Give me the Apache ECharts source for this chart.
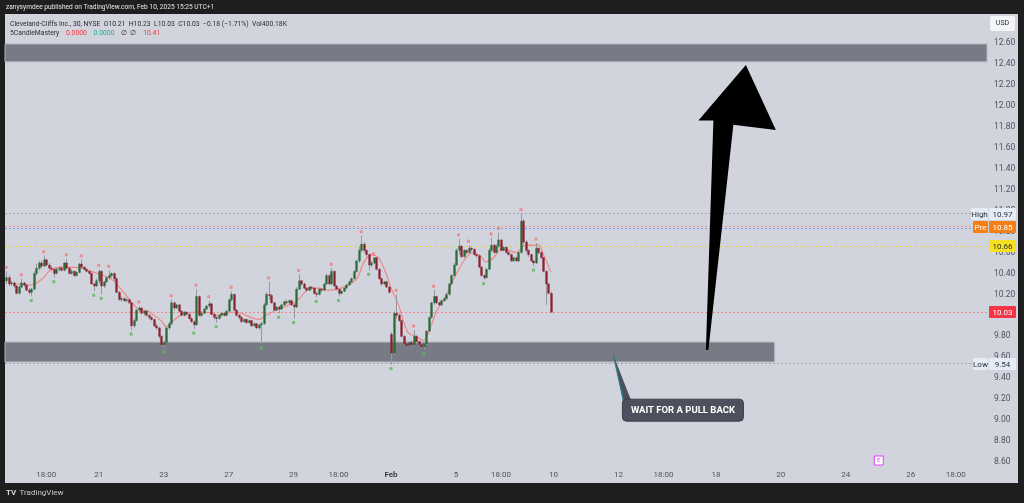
<!DOCTYPE html>
<html><head><meta charset="utf-8">
<script src="https://cdn.jsdelivr.net/npm/echarts/dist/echarts.min.js"></script>
<style>html,body{margin:0;padding:0;background:#1e1e1e;overflow:hidden}#c{width:1024px;height:503px}</style>
</head><body><div id="c"></div><script>
// ---- data ----
const totalBars = 393; // 30-min bar slots shown (incl. empty future)
// [open, close, low, high] per 30-min bar, CLF Jan 15 – Feb 7 2025
const ohlc = [
[10.33,10.36,10.30,10.42],[10.36,10.30,10.28,10.38],[10.30,10.31,10.28,10.33],[10.31,10.28,10.26,10.32],[10.28,10.21,10.20,10.29],
[10.21,10.27,10.20,10.28],[10.27,10.31,10.26,10.35],[10.31,10.29,10.27,10.32],[10.29,10.24,10.23,10.30],[10.24,10.22,10.20,10.26],
[10.22,10.25,10.18,10.26],[10.25,10.40,10.24,10.42],[10.40,10.45,10.38,10.49],[10.45,10.50,10.43,10.52],[10.50,10.47,10.45,10.52],
[10.47,10.53,10.46,10.57],[10.53,10.48,10.47,10.54],[10.48,10.45,10.44,10.50],[10.45,10.44,10.42,10.47],[10.44,10.40,10.36,10.45],
[10.40,10.44,10.39,10.45],[10.44,10.45,10.42,10.47],[10.45,10.43,10.42,10.47],[10.43,10.50,10.42,10.51],[10.50,10.45,10.44,10.54],
[10.45,10.40,10.39,10.46],[10.40,10.42,10.39,10.44],[10.42,10.38,10.37,10.43],[10.38,10.41,10.37,10.42],[10.41,10.49,10.40,10.50],
[10.49,10.46,10.45,10.53],[10.46,10.44,10.43,10.47],[10.44,10.42,10.41,10.45],[10.42,10.40,10.39,10.43],[10.40,10.30,10.29,10.41],
[10.30,10.28,10.23,10.31],[10.28,10.33,10.27,10.35],[10.33,10.42,10.30,10.44],[10.42,10.28,10.20,10.43],[10.28,10.32,10.26,10.33],
[10.32,10.36,10.31,10.37],[10.36,10.38,10.34,10.43],[10.38,10.40,10.36,10.41],[10.40,10.35,10.33,10.41],[10.35,10.22,10.21,10.36],
[10.22,10.15,10.14,10.23],[10.15,10.16,10.13,10.18],[10.16,10.14,10.13,10.17],[10.14,10.15,10.12,10.16],[10.15,10.12,10.11,10.16],
[10.12,9.90,9.86,10.12],[9.90,9.95,9.88,9.97],[9.95,10.05,9.94,10.06],[10.05,10.07,10.03,10.09],[10.07,10.02,10.01,10.08],
[10.02,10.04,10.00,10.05],[10.04,10.00,9.99,10.05],[10.00,9.98,9.96,10.01],[9.98,9.96,9.95,9.99],[9.96,9.90,9.89,9.97],
[9.90,9.88,9.86,9.92],[9.88,9.80,9.78,9.89],[9.80,9.72,9.70,9.81],[9.72,9.74,9.69,9.76],[9.74,9.88,9.73,9.89],
[9.88,9.92,9.86,9.94],[9.92,10.12,9.91,10.15],[10.12,10.07,10.05,10.13],[10.07,10.10,10.06,10.11],[10.10,10.04,10.03,10.11],
[10.04,10.00,9.99,10.05],[10.00,10.03,9.99,10.04],[10.03,10.01,10.00,10.04],[10.01,9.97,9.96,10.02],[9.97,9.94,9.93,9.98],
[9.94,9.91,9.87,9.95],[9.91,10.18,9.90,10.25],[10.18,10.00,9.99,10.19],[10.00,10.02,9.98,10.04],[10.02,10.06,10.01,10.07],
[10.06,10.09,10.05,10.10],[10.09,10.11,10.07,10.14],[10.11,10.01,10.00,10.12],[10.01,9.98,9.96,10.02],[9.98,9.97,9.93,9.99],
[9.97,10.00,9.96,10.01],[10.00,10.02,9.99,10.03],[10.02,10.00,9.99,10.03],[10.00,10.04,9.99,10.05],[10.04,10.15,10.03,10.16],
[10.15,10.20,10.13,10.23],[10.20,10.05,10.04,10.21],[10.05,10.00,9.99,10.06],[10.00,9.98,9.96,10.01],[9.98,9.94,9.93,9.99],
[9.94,9.96,9.93,9.97],[9.96,9.93,9.92,9.97],[9.93,9.95,9.92,9.96],[9.95,9.90,9.89,9.96],[9.90,9.92,9.89,9.93],
[9.92,9.88,9.87,9.93],[9.88,9.91,9.86,9.92],[9.91,9.92,9.73,9.94],[9.92,10.10,9.91,10.12],[10.10,10.20,10.09,10.22],
[10.20,10.19,10.15,10.32],[10.19,10.12,10.11,10.20],[10.12,10.05,10.04,10.13],[10.05,10.08,10.04,10.09],[10.08,10.06,10.02,10.09],
[10.06,10.10,10.05,10.11],[10.10,10.13,10.09,10.14],[10.13,10.12,10.11,10.15],[10.12,10.14,10.11,10.15],[10.14,10.10,10.09,10.15],
[10.10,10.08,9.97,10.11],[10.08,10.25,10.07,10.27],[10.25,10.33,10.24,10.39],[10.33,10.30,10.28,10.34],[10.30,10.26,10.25,10.31],
[10.26,10.24,10.23,10.27],[10.24,10.27,10.23,10.28],[10.27,10.26,10.24,10.28],[10.26,10.21,10.20,10.27],[10.21,10.20,10.17,10.22],
[10.20,10.25,10.19,10.26],[10.25,10.24,10.22,10.26],[10.24,10.30,10.23,10.31],[10.30,10.38,10.29,10.40],[10.38,10.30,10.29,10.39],
[10.30,10.42,10.29,10.45],[10.42,10.28,10.27,10.43],[10.28,10.25,10.24,10.29],[10.25,10.21,10.18,10.26],[10.21,10.23,10.20,10.24],
[10.23,10.26,10.22,10.27],[10.26,10.29,10.25,10.30],[10.29,10.32,10.28,10.33],[10.32,10.35,10.31,10.36],[10.35,10.42,10.34,10.43],
[10.42,10.52,10.41,10.53],[10.52,10.62,10.50,10.66],[10.62,10.68,10.60,10.76],[10.68,10.62,10.60,10.70],[10.62,10.58,10.56,10.63],
[10.58,10.48,10.43,10.59],[10.48,10.50,10.46,10.52],[10.50,10.55,10.49,10.55],[10.55,10.44,10.43,10.55],[10.44,10.35,10.34,10.45],
[10.35,10.30,10.28,10.36],[10.30,10.32,10.29,10.33],[10.32,10.27,10.26,10.33],[10.27,10.22,10.21,10.28],[9.82,9.64,9.53,9.84],
[9.64,10.02,9.62,10.04],[10.02,10.00,9.97,10.20],[10.00,9.95,9.94,10.02],[9.95,9.80,9.79,9.96],[9.80,9.73,9.72,9.81],
[9.73,9.71,9.70,9.75],[9.71,9.74,9.70,9.75],[9.74,9.72,9.70,9.76],[9.72,9.80,9.71,9.86],[9.80,9.75,9.73,9.81],
[9.75,9.72,9.71,9.76],[9.72,9.70,9.69,9.74],[9.70,9.73,9.67,9.74],[9.73,9.85,9.72,9.86],[9.85,9.98,9.84,9.99],
[9.98,10.12,9.97,10.13],[10.12,10.18,10.10,10.24],[10.18,10.12,10.11,10.19],[10.12,10.10,10.09,10.13],[10.10,10.14,10.09,10.15],
[10.14,10.16,10.13,10.17],[10.16,10.20,10.15,10.21],[10.20,10.30,10.19,10.31],[10.30,10.38,10.29,10.39],[10.38,10.48,10.37,10.50],
[10.48,10.62,10.47,10.64],[10.62,10.66,10.58,10.73],[10.66,10.56,10.55,10.67],[10.56,10.62,10.55,10.63],[10.62,10.60,10.58,10.63],
[10.60,10.64,10.59,10.67],[10.64,10.63,10.61,10.65],[10.63,10.58,10.57,10.64],[10.58,10.57,10.55,10.59],[10.57,10.46,10.45,10.58],
[10.46,10.38,10.37,10.47],[10.38,10.36,10.34,10.39],[10.36,10.44,10.35,10.45],[10.44,10.62,10.43,10.64],[10.62,10.67,10.60,10.74],
[10.67,10.60,10.59,10.68],[10.60,10.66,10.59,10.68],[10.66,10.72,10.64,10.79],[10.72,10.62,10.61,10.73],[10.62,10.65,10.61,10.66],
[10.65,10.60,10.59,10.66],[10.60,10.58,10.57,10.61],[10.58,10.52,10.51,10.59],[10.52,10.55,10.51,10.56],[10.55,10.52,10.51,10.56],
[10.52,10.60,10.51,10.61],[10.60,10.90,10.59,10.97],[10.90,10.70,10.68,10.92],[10.70,10.62,10.60,10.72],[10.62,10.58,10.56,10.63],
[10.58,10.52,10.51,10.59],[10.52,10.50,10.47,10.53],[10.50,10.64,10.49,10.69],[10.64,10.60,10.58,10.65],[10.60,10.55,10.54,10.61],
[10.55,10.42,10.41,10.56],[10.42,10.30,10.10,10.43],[10.30,10.21,10.20,10.31],[10.21,10.03,10.03,10.23]
];
// 5CandleMastery smoothed line, [barIndex, value]
const maPoints = [[4,10.30],[10,10.29],[15,10.36],[17,10.42],[19,10.45],[25,10.46],[30,10.45],[34,10.42],[40,10.37],[43,10.33],
[47,10.22],[50,10.13],[53,10.06],[57,10.04],[58,10.02],[62,9.95],[64,9.89],[67,9.95],[71,10.02],[75,10.03],[80,10.03],[85,10.00],
[90,10.03],[94,10.02],[98,9.98],[101,9.96],[104,10.00],[108,10.05],[112,10.09],[116,10.13],[121,10.25],[125,10.26],[129,10.24],
[134,10.26],[140,10.34],[143,10.50],[146,10.58],[149,10.55],[152,10.40],[154,10.26],[157,10.10],[159,9.94],[161,9.83],[164,9.80],
[167,9.76],[170,9.90],[172,10.03],[176,10.19],[180,10.39],[184,10.55],[187,10.60],[190,10.56],[192,10.51],[195,10.55],[198,10.63],
[201,10.62],[204,10.60],[207,10.66],[209,10.67],[213,10.67],[215,10.58],[218,10.41]];
const pivotHighIdx = [0,6,15,24,30,37,41,53,66,76,81,90,105,117,130,142,147,156,163,171,181,185,194,197,206,212];
const pivotLowIdx = [10,19,35,38,50,63,75,84,102,109,115,124,133,145,154,167,191,211];
const timeLabels = [[16,'18:00'],[37,'21'],[63,'23'],[89,'27'],[115,'29'],[133,'18:00'],[154,'Feb'],[180,'5'],[198,'18:00'],
[219,'10'],[245,'12'],[263,'18:00'],[284,'18'],[310,'20'],[336,'24'],[362,'26'],[380,'18:00']];
const priceMin = 8.4, priceMax = 12.8, priceStep = 0.2;
const levelHigh = 10.97, levelPre = 10.85, levelPreB = 10.83, levelYellow = 10.66, levelLast = 10.03, levelLow = 9.54;
const zoneTop = [12.42, 12.59], zoneBottom = [9.555, 9.745];
const earningsBar = 349;

// ---- chart ----
const chart = echarts.init(document.getElementById('c'), null, {renderer:'canvas'});
const cats = Array.from({length: totalBars}, (_, i) => String(i));
const labelMap = {}; timeLabels.forEach(t => labelMap[t[0]] = t[1]);
const FONT = 'Roboto, "Noto Sans", sans-serif';

function lvl(v, color, type) { return {yAxis: v, lineStyle: {color: color, type: type || [2,2], width: 1}}; }

chart.setOption({
  animation: false,
  backgroundColor: '#1e1e1e',
  grid: {left: 5, right: 37, top: 22, bottom: 20, containLabel: false},
  xAxis: {type: 'category', data: cats, boundaryGap: true,
    axisLine: {show: false}, axisTick: {show: false}, splitLine: {show: false},
    axisLabel: {inside: true, interval: 0, margin: 4, fontSize: 8, fontFamily: FONT,
      color: '#50535e', formatter: (v, i) => labelMap[i] === 'Feb' ? '{b|Feb}' : (labelMap[i] || ''),
      rich: {b: {fontSize: 8, fontWeight: 'bold', color: '#3a3d47', fontFamily: FONT}}}},
  yAxis: {type: 'value', position: 'right', min: priceMin, max: priceMax, interval: priceStep, scale: true,
    axisLine: {show: false}, axisTick: {show: false}, splitLine: {show: false},
    axisLabel: {margin: 7, fontSize: 8.5, fontFamily: FONT, color: '#50535e', padding: [5, 0, 0, 0],
      formatter: v => (v < 8.5 || v > 12.7) ? '' : v.toFixed(2)}},
  series: [
    {type: 'custom', name: 'CLF', data: ohlc.map((d, i) => [i, d[0], d[1], d[2], d[3]]),
      encode: {x: 0, y: [1, 2, 3, 4]}, z: 5,
      renderItem: function (params, api) {
        const i = api.value(0), o = api.value(1), c = api.value(2), l = api.value(3), h = api.value(4);
        const pO = api.coord([i, o]), pC = api.coord([i, c]), pL = api.coord([i, l]), pH = api.coord([i, h]);
        const bw = api.size([1, 0])[0] * 0.74;
        const x = Math.round(pO[0]) + 0.5;
        const up = c >= o;
        const top = Math.min(pO[1], pC[1]), bot = Math.max(pO[1], pC[1]);
        return {type: 'group', children: [
          {type: 'line', shape: {x1: x, y1: pH[1], x2: x, y2: pL[1]}, style: {stroke: '#95989f', lineWidth: 1}},
          {type: 'rect', shape: {x: x - bw / 2, y: top, width: bw, height: Math.max(1, bot - top)},
            style: {fill: up ? '#2a6b3b' : '#8b2232', stroke: up ? '#2a6b3b' : '#8b2232', lineWidth: 0.4}}
        ]};
      }},
    {type: 'line', name: '5CandleMastery', data: maPoints, showSymbol: false, smooth: 0.3, z: 4,
      lineStyle: {color: '#f28080', width: 1.1},
      markLine: {silent: true, symbol: 'none', label: {show: false},
        data: [lvl(levelHigh, '#a3a6ae'), lvl(levelPre, '#f28e8e'), lvl(levelPreB, '#7e9be8'),
               lvl(levelYellow, '#e8d21d', [2,3]), lvl(levelLast, '#f08a8a'), lvl(levelLow, '#a3a6ae')]}},
    {type: 'scatter', name: 'ph', symbol: 'rect', symbolSize: [3, 3], symbolOffset: [0, -4], z: 6,
      itemStyle: {color: '#f47c82'}, data: pivotHighIdx.map(i => [i, ohlc[i][3]])},
    {type: 'scatter', name: 'pl', symbol: 'rect', symbolSize: [3, 3], symbolOffset: [0, 4], z: 6,
      itemStyle: {color: '#5cb85f'}, data: pivotLowIdx.map(i => [i, ohlc[i][2]])}
  ]
});

function px(i, p) { return chart.convertToPixel({gridIndex: 0}, [i, p]); }
const barW = px(1, 10)[0] - px(0, 10)[0];
const gridL = px(0, 10)[0] - barW / 2, gridR = px(totalBars - 1, 10)[0] + barW / 2;
const Y = p => px(0, p)[1];

function zoneRect(range, xEndBar) {
  const xr = xEndBar == null ? gridR : px(xEndBar, 10)[0] + barW / 2;
  const y1 = Y(range[1]), y2 = Y(range[0]);
  return {type: 'rect', z: 2, shape: {x: gridL, y: y1, width: xr - gridL, height: y2 - y1},
    style: {fill: '#787b86', stroke: '#b4b7bf', lineWidth: 1}};
}
function tag(x, yc, w, text, bg, fg) {
  const yy = Math.round(yc);
  return [
    {type: 'rect', z: 60, shape: {x: x, y: yy - 6, width: w, height: 12, r: 1}, style: {fill: bg}},
    {type: 'text', z: 61, x: x + w / 2, y: yy + 0.5, style: {text: text, fill: fg, font: '8px ' + FONT, align: 'center', verticalAlign: 'middle'}}
  ];
}
// arrow polygon in data coords [bar, price]
const arrowPts = [[280, 9.67], [281.4, 9.67], [291.2, 11.82], [308, 11.77], [296.4, 12.39], [277.2, 11.86], [283.4, 11.86]].map(q => px(q[0], q[1]));
const callAnchor = px(242.5, 9.62);
const boxX = callAnchor[0] + 9, boxY = callAnchor[1] + 44;
const eX = px(earningsBar, 10)[0];

const g = [
  // panel
  {type: 'rect', z: -10, shape: {x: 5, y: 14, width: 1013, height: 469}, style: {fill: '#d1d4dc'}},
  // header
  {type: 'text', x: 6, y: 7, z: 50, style: {text: 'zanysymdee published on TradingView.com, Feb 10, 2025 15:25 UTC+1', fill: '#e8e8e8', font: '6.6px ' + FONT, verticalAlign: 'middle'}},
  // legend
  {type: 'text', x: 10, y: 24, z: 50, style: {text: 'Cleveland-Cliffs Inc., 30, NYSE  O10.21  H10.23  L10.03  C10.03  \u22120.18 (\u22121.71%)  Vol400.18K', fill: '#2a2e39', font: '6.8px ' + FONT, verticalAlign: 'middle'}},
  {type: 'text', x: 10, y: 33, z: 50, style: {text: '{a|5CandleMastery}  {r|0.0000}  {gg|0.0000}  {a|\u2205  \u2205}  {r|10.41}', verticalAlign: 'middle',
    rich: {a: {fill: '#2a2e39', font: '6.8px ' + FONT}, r: {fill: '#f23645', font: '6.8px ' + FONT}, gg: {fill: '#22ab94', font: '6.8px ' + FONT}}}},
  // USD
  {type: 'rect', z: 50, shape: {x: 990, y: 16, width: 25, height: 15, r: 2}, style: {fill: '#f4f5f8'}},
  {type: 'text', z: 51, x: 1002.5, y: 23.5, style: {text: 'USD', fill: '#2a2e39', font: '7px ' + FONT, align: 'center', verticalAlign: 'middle'}},
  // zones
  zoneRect(zoneTop, null), zoneRect(zoneBottom, 307),
  // arrow
  {type: 'polygon', z: 20, shape: {points: arrowPts}, style: {fill: '#000000'}},
  // callout
  {type: 'polygon', z: 20, shape: {points: [callAnchor, [boxX + 1, boxY + 2], [boxX + 9, boxY + 2]]}, style: {fill: '#4b4f5b'}},
  {type: 'line', z: 21, shape: {x1: callAnchor[0], y1: callAnchor[1], x2: boxX + 1, y2: boxY + 2}, style: {stroke: '#2b8088', lineWidth: 1.2}},
  {type: 'rect', z: 21, shape: {x: boxX, y: boxY, width: 121, height: 22, r: 4}, style: {fill: '#4d515d', stroke: '#3b3f4a', lineWidth: 1}},
  {type: 'text', z: 22, x: boxX + 60.5, y: boxY + 11.5, style: {text: 'WAIT FOR A PULL BACK', fill: '#ffffff', font: 'bold 9.5px ' + FONT, align: 'center', verticalAlign: 'middle'}},
  // earnings marker
  {type: 'rect', z: 20, shape: {x: eX - 4, y: 456, width: 9, height: 9}, style: {fill: '#ffffff', stroke: '#e040fb', lineWidth: 1}},
  {type: 'text', z: 21, x: eX + 0.5, y: 460.5, style: {text: 'E', fill: '#e040fb', font: '6px ' + FONT, align: 'center', verticalAlign: 'middle'}},
  // price tags
  ...tag(971, Y(levelHigh), 17, 'High', '#e6ecf5', '#2a2e39'), ...tag(989, Y(levelHigh), 27, '10.97', '#e6ecf5', '#2a2e39'),
  ...tag(973, Y(levelPre) + 1, 15, 'Pre', '#f57f17', '#ffffff'), ...tag(989, Y(levelPre) + 1, 27, '10.85', '#f57f17', '#ffffff'),
  ...tag(989, Y(levelYellow), 27, '10.66', '#f5e11f', '#2a2e39'),
  ...tag(989, Y(levelLast), 27, '10.03', '#f23645', '#ffffff'),
  ...tag(973, Y(levelLow), 15, 'Low', '#e6ecf5', '#2a2e39'), ...tag(989, Y(levelLow), 27, '9.54', '#e6ecf5', '#2a2e39'),
  // footer
  {type: 'text', x: 6, y: 493, z: 50, style: {text: '{l|TV} {t|TradingView}', verticalAlign: 'middle',
    rich: {l: {fill: '#d8d8d8', font: 'bold 8px ' + FONT}, t: {fill: '#c8c8c8', font: '8px ' + FONT}}}}
];
chart.setOption({graphic: g});
</script></body></html>
